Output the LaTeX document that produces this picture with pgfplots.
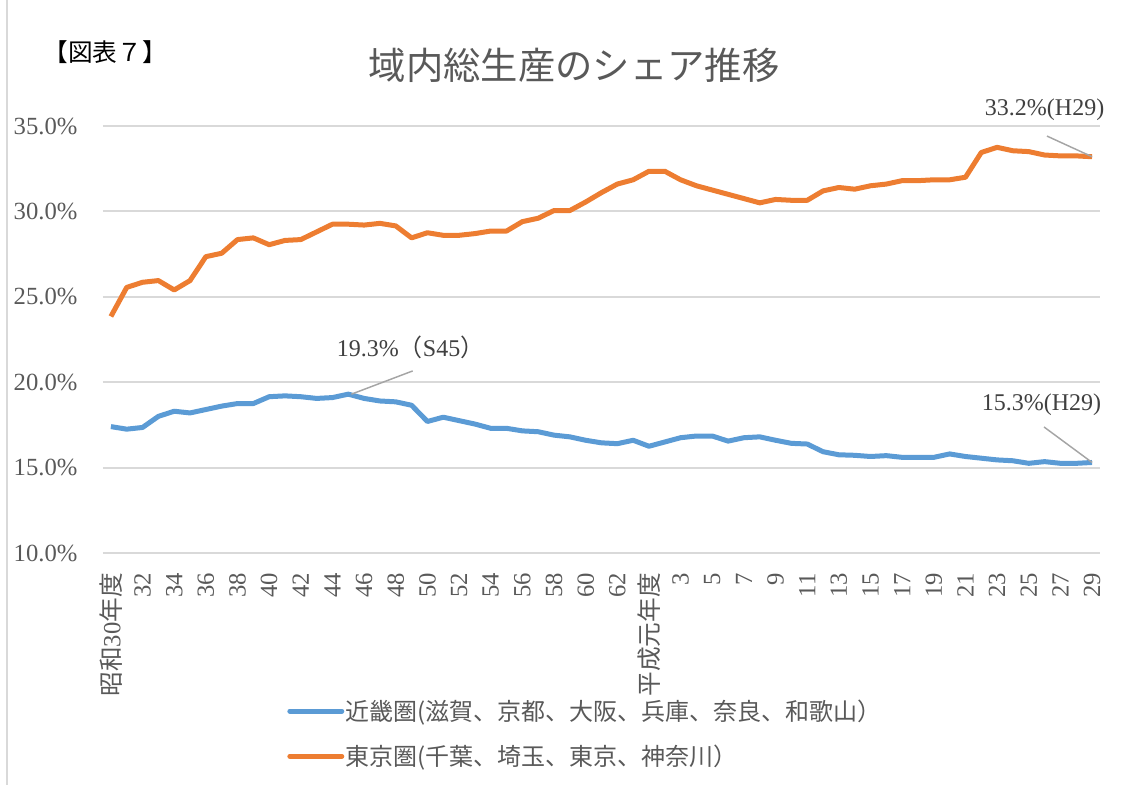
\documentclass[border=0pt]{standalone}
\usepackage{fontspec}
\usepackage{pgfplots}
\pgfplotsset{compat=1.18}
\setmainfont{Liberation Serif}
\newfontfamily\jp{Noto Sans CJK JP}
\definecolor{kblue}{HTML}{5B9BD5}
\definecolor{korange}{HTML}{ED7D31}
\definecolor{gridc}{HTML}{D9D9D9}
\definecolor{txt}{HTML}{595959}
\definecolor{anntxt}{HTML}{404040}
\definecolor{leader}{HTML}{A5A5A5}
\begin{document}
\begin{tikzpicture}
\useasboundingbox (0pt,0pt) rectangle (846pt,588.75pt);
\draw[gridc, line width=1.2pt] (5.25pt,0pt) -- (5.25pt,588.75pt);
\begin{axis}[
  at={(77.25pt,174pt)}, anchor=south west,
  scale only axis, width=747.75pt, height=320.25pt,
  xmin=-0.5, xmax=62.5, ymin=10, ymax=35,
  axis line style={draw=none}, tick style={draw=none},
  ymajorgrids, major grid style={gridc, line width=1.5pt},
  ytick={10,15,20,25,30,35},
  yticklabel={\pgfmathprintnumber[fixed,fixed zerofill,precision=1,assume math mode=true]{\tick}\%},
  yticklabel style={font=\fontsize{18.5}{20}\selectfont, text=txt, inner sep=0pt, anchor=east},
  yticklabel shift=19pt,
  xtick={0,2,...,62},
  xticklabels={{\jp 昭和}30{\jp 年度},32,34,36,38,40,42,44,46,48,50,52,54,56,58,60,62,{\jp 平成元年度},3,5,7,9,11,13,15,17,19,21,23,25,27,29},
  xticklabel style={rotate=90, anchor=east, inner sep=0pt, font=\fontsize{18.5}{20}\selectfont, text=txt},
  xticklabel shift=15pt,
  clip=false,
  legend style={at={(0.1846,-0.34)}, anchor=north west, draw=none, fill=none,
    font=\fontsize{18}{20}\selectfont\jp, text=txt, row sep=15pt, inner sep=0pt,
    nodes={inner sep=1pt}},
  legend cell align=left,
  legend image code/.code={\draw[#1, line cap=round] (0pt,0pt) -- (39pt,0pt);},
]
\addplot[kblue, line width=3.75pt, line join=round] coordinates {
(0,17.4)(1,17.25)(2,17.35)(3,18.0)(4,18.3)(5,18.2)(6,18.4)(7,18.6)(8,18.75)(9,18.75)
(10,19.15)(11,19.2)(12,19.15)(13,19.05)(14,19.1)(15,19.3)(16,19.05)(17,18.9)(18,18.85)(19,18.65)
(20,17.7)(21,17.95)(22,17.75)(23,17.55)(24,17.3)(25,17.3)(26,17.15)(27,17.1)(28,16.9)(29,16.8)
(30,16.6)(31,16.45)(32,16.4)(33,16.6)(34,16.25)(35,16.5)(36,16.75)(37,16.85)(38,16.85)(39,16.55)
(40,16.75)(41,16.8)(42,16.6)(43,16.42)(44,16.38)(45,15.93)(46,15.75)(47,15.72)(48,15.65)(49,15.7)
(50,15.6)(51,15.6)(52,15.6)(53,15.8)(54,15.65)(55,15.55)(56,15.45)(57,15.4)(58,15.25)(59,15.35)
(60,15.25)(61,15.25)(62,15.3)};
\addlegendentry{近畿圏(滋賀、京都、大阪、兵庫、奈良、和歌山）}
\addplot[korange, line width=3.75pt, line join=round] coordinates {
(0,23.85)(1,25.55)(2,25.85)(3,25.95)(4,25.4)(5,25.95)(6,27.35)(7,27.55)(8,28.35)(9,28.45)
(10,28.05)(11,28.3)(12,28.35)(13,28.8)(14,29.25)(15,29.25)(16,29.2)(17,29.3)(18,29.15)(19,28.45)
(20,28.75)(21,28.6)(22,28.6)(23,28.7)(24,28.85)(25,28.85)(26,29.4)(27,29.6)(28,30.05)(29,30.05)
(30,30.55)(31,31.1)(32,31.6)(33,31.85)(34,32.35)(35,32.35)(36,31.85)(37,31.5)(38,31.25)(39,31.0)
(40,30.75)(41,30.5)(42,30.7)(43,30.65)(44,30.65)(45,31.2)(46,31.4)(47,31.3)(48,31.5)(49,31.6)
(50,31.8)(51,31.8)(52,31.85)(53,31.85)(54,32.0)(55,33.45)(56,33.75)(57,33.55)(58,33.5)(59,33.3)
(60,33.25)(61,33.25)(62,33.2)};
\addlegendentry{東京圏(千葉、埼玉、東京、神奈川）}
% annotations
\draw[leader, line width=1.1pt] (axis cs:15.2,19.3) -- (axis cs:19.07,20.66);
\node[text=anntxt, font=\fontsize{18}{20}\selectfont] at (axis cs:18.94,22.06) {19.3\%{\jp （}S45{\jp ）}};
\draw[leader, line width=1.1pt] (axis cs:59.15,34.41) -- (axis cs:62,33.2);
\node[text=anntxt, font=\fontsize{18}{20}\selectfont] at (axis cs:59.0,35.94) {33.2\%(H29)};
\draw[leader, line width=1.1pt] (axis cs:58.96,17.38) -- (axis cs:62,15.3);
\node[text=anntxt, font=\fontsize{18}{20}\selectfont] at (axis cs:58.8,18.67) {15.3\%(H29)};
\end{axis}
\node[text=txt, font=\fontsize{28}{31}\selectfont\jp] at (430.5pt,540pt) {域内総生産のシェア推移};
\node[text=black, font=\fontsize{18.5}{21}\selectfont\jp] at (78.75pt,549.75pt) {【図表７】};
\end{tikzpicture}
\end{document}
